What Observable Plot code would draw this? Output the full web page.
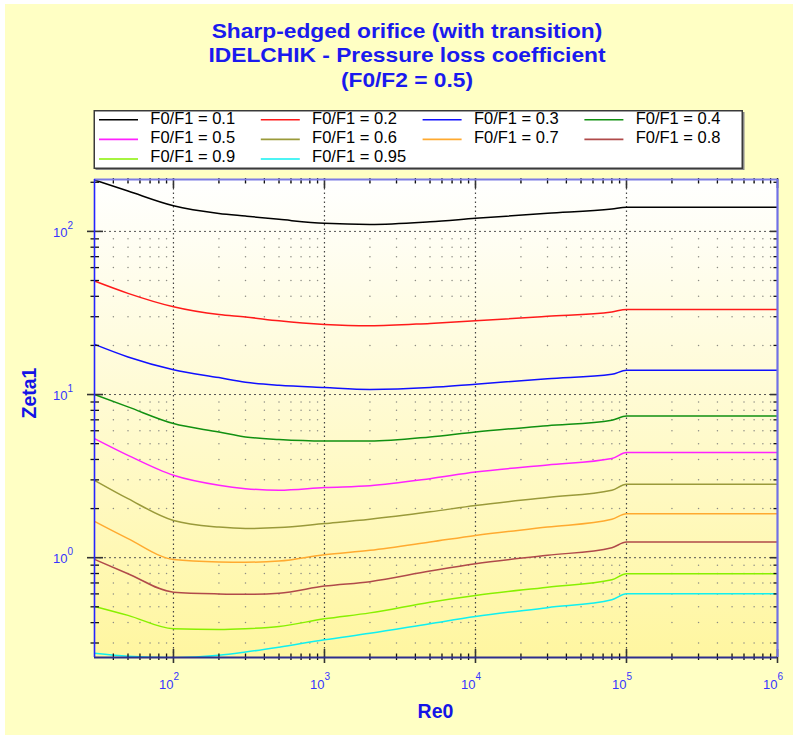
<!DOCTYPE html>
<html><head><meta charset="utf-8">
<script src="https://cdn.jsdelivr.net/npm/d3@7"></script>
<script src="https://cdn.jsdelivr.net/npm/@observablehq/plot@0.6"></script>
<style>
body{margin:0;background:#fff;}
#wrap{position:relative;width:793px;height:735px;overflow:hidden;font-family:"Liberation Sans",Arial,sans-serif;}
#bg{position:absolute;left:5px;top:4px;width:788px;height:731px;background:#FFFFC4;}
#chart{position:absolute;left:0;top:0;}
#legend{position:absolute;left:0;top:0;}
.tl{position:absolute;left:7px;width:800px;text-align:center;font-weight:bold;font-size:20.5px;line-height:24px;color:#1a1aee;transform:scaleX(1.11);transform-origin:400px 0;white-space:nowrap;}
</style>
</head><body>
<div id="wrap">
  <div id="bg"></div>
  <div id="chart"></div>
  <div class="tl" style="top:18.6px">Sharp-edged orifice (with transition)</div>
  <div class="tl" style="top:42.9px">IDELCHIK - Pressure loss coefficient</div>
  <div class="tl" style="top:67.9px">(F0/F2 = 0.5)</div>
  <svg id="legend" width="793" height="180"></svg>
</div>
<script>
// ---- data ----
const re = [30, 50, 100, 200, 300, 500, 1000, 2000, 5000, 1e4, 3e4, 8e4, 1e5, 1e6];
const seriesLabels = ["F0/F1 = 0.1","F0/F1 = 0.2","F0/F1 = 0.3","F0/F1 = 0.4","F0/F1 = 0.5",
                      "F0/F1 = 0.6","F0/F1 = 0.7","F0/F1 = 0.8","F0/F1 = 0.9","F0/F1 = 0.95"];
const seriesColors = ["#000000","#ff1a1a","#1010ff","#119011","#ff22ff",
                      "#9a9a3a","#ffaa30","#b04a4a","#88f000","#10f0f0"];
const zeta_01  = [206.5, 176.7, 143.6, 128.9, 124.1, 118.5, 112.0, 110.4, 114.6, 120.2, 129.0, 137.0, 140.4, 140.4];
const zeta_02  = [49.6, 41.7, 34.5, 30.9, 29.9, 28.3, 26.9, 26.4, 27.3, 28.3, 30.2, 32.1, 33.2, 33.2];
const zeta_03  = [20.3, 17.0, 14.2, 12.7, 11.9, 11.4, 11.04, 10.75, 11.04, 11.57, 12.5, 13.3, 14.1, 14.1];
const zeta_04  = [10.0, 8.4, 6.64, 5.9, 5.5, 5.3, 5.19, 5.19, 5.5, 5.9, 6.44, 6.96, 7.39, 7.39];
const zeta_05  = [5.37, 4.24, 3.20, 2.78, 2.65, 2.59, 2.69, 2.76, 3.05, 3.35, 3.70, 4.05, 4.41, 4.41];
const zeta_06  = [2.98, 2.30, 1.69, 1.54, 1.51, 1.53, 1.62, 1.72, 1.91, 2.09, 2.34, 2.59, 2.82, 2.82];
const zeta_07  = [1.67, 1.31, 0.976, 0.942, 0.938, 0.953, 1.043, 1.109, 1.247, 1.37, 1.54, 1.72, 1.86, 1.86];
const zeta_08  = [0.976, 0.798, 0.615, 0.600, 0.597, 0.606, 0.670, 0.713, 0.828, 0.919, 1.034, 1.152, 1.247, 1.247];
const zeta_09  = [0.503, 0.443, 0.367, 0.363, 0.367, 0.379, 0.422, 0.459, 0.534, 0.587, 0.660, 0.733, 0.798, 0.798];
const zeta_095 = [0.260, 0.249, 0.244, 0.252, 0.264, 0.283, 0.314, 0.344, 0.394, 0.436, 0.494, 0.552, 0.601, 0.601];
const seriesValues = [zeta_01, zeta_02, zeta_03, zeta_04, zeta_05, zeta_06, zeta_07, zeta_08, zeta_09, zeta_095];

const xMajor = [1e2, 1e3, 1e4, 1e5, 1e6];
const xMajorExp = ["2", "3", "4", "5", "6"];
const xMinor = [40,50,60,70,80,90, 200,300,400,500,600,700,800,900,
                2000,3000,4000,5000,6000,7000,8000,9000,
                2e4,3e4,4e4,5e4,6e4,7e4,8e4,9e4, 2e5,3e5,4e5,5e5,6e5,7e5,8e5,9e5];
const yMajor = [1, 10, 100];
const yMajorExp = ["0", "1", "2"];
const yMinor = [0.3,0.4,0.5,0.6,0.7,0.8,0.9, 2,3,4,5,6,7,8,9, 20,30,40,50,60,70,80,90, 200];
const xDomain = [30, 1e6];
const yDomain = [0.2445, 208];

// ---- layout ----
const W = 793, H = 735, mL = 94, mR = 16, mT = 179, mB = 78;
const PW = W - mL - mR, PH = H - mT - mB;
const labelColor = "#3535ff", titleColor = "#1414e6";

const rows = [];
seriesLabels.forEach((s, i) => re.forEach((r, j) => rows.push({re: r, zeta: seriesValues[i][j], s})));
const grid = xMinor.flatMap(x => yMinor.map(y => ({x, y})));

const tk = {stroke: "#111", strokeWidth: 1.3};
const plot = Plot.plot({
  width: W, height: H, marginLeft: mL, marginRight: mR, marginTop: mT, marginBottom: mB,
  style: {background: "transparent", fontFamily: "Liberation Sans, Arial, sans-serif", overflow: "visible"},
  x: {type: "log", domain: xDomain, axis: null},
  y: {type: "log", domain: yDomain, axis: null},
  color: {domain: seriesLabels, range: seriesColors},
  marks: [
    Plot.frame({fill: "url(#pg)", stroke: null}),
    Plot.dot(grid, {x: "x", y: "y", r: 0.75, fill: "#8c8c84", stroke: null}),
    Plot.ruleY(yMajor, {stroke: "#555", strokeWidth: 1, strokeDasharray: "2,3"}),
    Plot.ruleX(xMajor.slice(0, 4), {stroke: "#444", strokeWidth: 1.2, strokeDasharray: "1.5,3"}),
    Plot.line(rows, {x: "re", y: "zeta", z: "s", stroke: "s", strokeWidth: 1.5, curve: "monotone-x", clip: true}),
    // ticks: bottom & top
    Plot.ruleX(xMinor, {...tk, insetTop: PH - 3.5, insetBottom: -3}),
    Plot.ruleX(xMajor, {...tk, stroke: "#333", strokeWidth: 1.6, insetTop: PH - 8, insetBottom: -6}),
    Plot.ruleX(xMinor, {...tk, insetTop: -1, insetBottom: PH - 4.5}),
    Plot.ruleX(xMajor, {...tk, stroke: "#333", strokeWidth: 1.6, insetTop: -1, insetBottom: PH - 9}),
    // ticks: left & right
    Plot.ruleY(yMinor, {...tk, insetLeft: -3.5, insetRight: PW - 5}),
    Plot.ruleY(yMajor, {...tk, stroke: "#333", strokeWidth: 1.6, insetLeft: -7, insetRight: PW - 9}),
    Plot.ruleY(yMinor, {...tk, insetLeft: PW - 3.5, insetRight: 0}),
    Plot.ruleY(yMajor, {...tk, stroke: "#333", strokeWidth: 1.6, insetLeft: PW - 7, insetRight: 0}),
    // frame lines
    Plot.ruleY([yDomain[1]], {stroke: "#7c7ce4", strokeWidth: 2.2}),
    Plot.ruleX([xDomain[1]], {stroke: "#7070e6", strokeWidth: 2.2}),
    Plot.ruleY([yDomain[0]], {stroke: "#2e2e8c", strokeWidth: 2.2}),
    Plot.ruleX([xDomain[0]], {stroke: "#2424ff", strokeWidth: 1.6}),
    // tick labels x
    Plot.text(xMajor, {x: d => d, frameAnchor: "bottom", text: () => "10", textAnchor: "end", lineAnchor: "bottom",
      dy: 31.3, dx: 0, fontSize: 13, fill: labelColor}),
    Plot.text(xMajor, {x: d => d, frameAnchor: "bottom", text: (d, i) => xMajorExp[i], textAnchor: "start", lineAnchor: "bottom",
      dy: 22.5, dx: 0, fontSize: 10, fill: labelColor}),
    // tick labels y
    Plot.text(yMajor, {y: d => d, frameAnchor: "left", text: () => "10", textAnchor: "end", lineAnchor: "bottom",
      dx: -27, dy: 5.8, fontSize: 13, fill: labelColor}),
    Plot.text(yMajor, {y: d => d, frameAnchor: "left", text: (d, i) => yMajorExp[i], textAnchor: "start", lineAnchor: "bottom",
      dx: -27, dy: -2.5, fontSize: 10, fill: labelColor}),
    // axis titles
    Plot.text(["Re0"], {frameAnchor: "bottom", text: d => d, lineAnchor: "bottom", dy: 60, dx: -0.5,
      fontSize: 19.5, fontWeight: "bold", fill: titleColor}),
    Plot.text(["Zeta1"], {frameAnchor: "left", text: d => d, rotate: -90, lineAnchor: "middle", dx: -65,
      fontSize: 19.5, fontWeight: "bold", fill: titleColor})
  ]
});
const defs = d3.select(plot).insert("defs", ":first-child");
const lg = defs.append("linearGradient").attr("id", "pg").attr("x1", 0).attr("y1", 0).attr("x2", 0).attr("y2", 1);
lg.append("stop").attr("offset", "0%").attr("stop-color", "#ffffff");
lg.append("stop").attr("offset", "100%").attr("stop-color", "#fff6a0");
document.getElementById("chart").appendChild(plot);

// ---- legend ----
const leg = d3.select("#legend");
leg.append("rect").attr("x", 95.5).attr("y", 112).attr("width", 649).attr("height", 58).attr("fill", "#888");
leg.append("rect").attr("x", 94.25).attr("y", 110.75).attr("width", 648).attr("height", 57.5)
  .attr("fill", "#fff").attr("stroke", "#3a3a3a").attr("stroke-width", 1.5);
seriesLabels.forEach((s, i) => {
  const col = i % 4, row = Math.floor(i / 4);
  const ly = 119.7 + row * 19.65;
  leg.append("line").attr("x1", 99 + col * 161.8).attr("x2", 138 + col * 161.8)
    .attr("y1", ly).attr("y2", ly).attr("stroke", seriesColors[i]).attr("stroke-width", 1.6);
  leg.append("text").attr("x", 150.3 + col * 161.8).attr("y", 124.3 + row * 18.7)
    .attr("font-family", "Liberation Sans, Arial, sans-serif").attr("font-size", 16.5).attr("fill", "#000")
    .text(s);
});
</script>
</body></html>
